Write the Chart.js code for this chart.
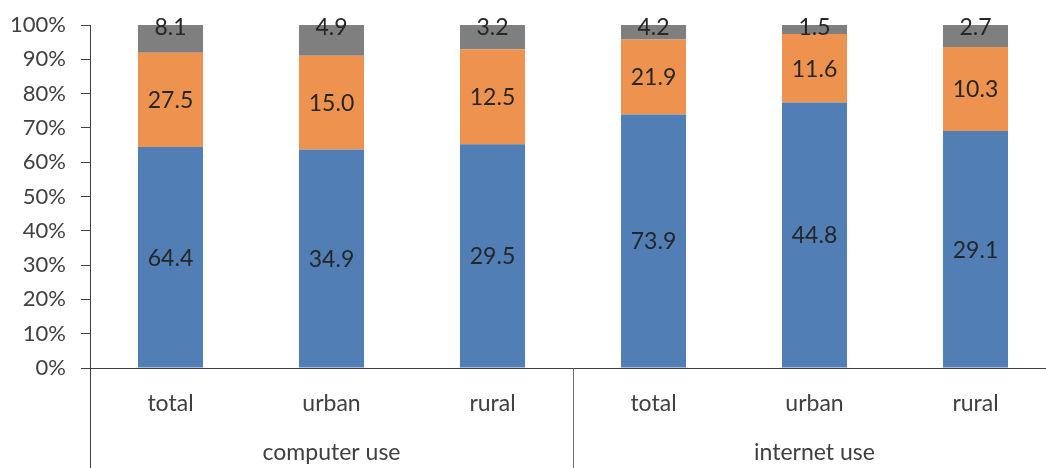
<!DOCTYPE html>
<html>
<head>
<meta charset="utf-8">
<script src="https://cdn.jsdelivr.net/npm/chart.js@4/dist/chart.umd.min.js"></script>
<style>
  html, body { margin: 0; padding: 0; background: #fff; overflow: hidden; }
  #wrap { position: absolute; left: 0; top: 0; width: 1060px; height: 468px; }
</style>
</head>
<body>
<div id="wrap"><canvas id="chart" width="1060" height="468"></canvas></div>
<script>
// categories along the bottom, two groups of three
const categories = ["total", "urban", "rural", "total", "urban", "rural"];
const groups = ["computer use", "internet use"];

// values printed on the segments (raw shares, bars are normalised to 100%)
const blueValues = [64.4, 34.9, 29.5, 73.9, 44.8, 29.1];
const orangeValues = [27.5, 15.0, 12.5, 21.9, 11.6, 10.3];
const grayValues = [8.1, 4.9, 3.2, 4.2, 1.5, 2.7];

const yTicks = [0, 10, 20, 30, 40, 50, 60, 70, 80, 90, 100];

const seriesRaw = [blueValues, orangeValues, grayValues];
const totals = categories.map((c, i) => seriesRaw.reduce((s, arr) => s + arr[i], 0));
const toPct = (arr) => arr.map((v, i) => (v / totals[i]) * 100);

const FONT = "Lato, 'Open Sans', sans-serif";

// draws values inside the segments
const segmentLabels = {
  id: "segmentLabels",
  afterDatasetsDraw(chart) {
    const ctx = chart.ctx;
    ctx.save();
    ctx.font = "23px " + FONT;
    ctx.fillStyle = "#262626";
    ctx.textAlign = "center";
    ctx.textBaseline = "middle";
    chart.data.datasets.forEach((ds, di) => {
      const meta = chart.getDatasetMeta(di);
      meta.data.forEach((el, i) => {
        const top = Math.min(el.y, el.base);
        const bottom = Math.max(el.y, el.base);
        let y = (top + bottom) / 2;
        if (di === 2) y = top + 2; // small top segments: label sits at the top
        ctx.fillText(seriesRaw[di][i].toFixed(1), el.x, y + 1);
      });
    });
    ctx.restore();
  }
};

// axis lines, group separators and group names
const groupAxis = {
  id: "groupAxis",
  afterDraw(chart) {
    const ctx = chart.ctx;
    const area = chart.chartArea;
    const x = chart.scales.x;
    ctx.save();
    ctx.strokeStyle = "#404040";
    ctx.lineWidth = 1;
    ctx.beginPath();
    // x axis line
    ctx.moveTo(area.left, Math.round(area.bottom) + 0.5);
    ctx.lineTo(chart.width, Math.round(area.bottom) + 0.5);
    // y axis line, carried down through the category rows
    ctx.moveTo(Math.round(area.left) + 0.5, area.top);
    ctx.lineTo(Math.round(area.left) + 0.5, chart.height);
    ctx.stroke();

    const mid = Math.round((x.getPixelForValue(2) + x.getPixelForValue(3)) / 2) + 0.5;
    ctx.strokeStyle = "#6b6b6b";
    ctx.beginPath();
    ctx.moveTo(mid, area.bottom);
    ctx.lineTo(mid, chart.height);
    ctx.stroke();

    ctx.font = "23px " + FONT;
    ctx.fillStyle = "#404040";
    ctx.textAlign = "center";
    ctx.textBaseline = "middle";
    groups.forEach((g, gi) => {
      ctx.fillText(g, x.getPixelForValue(gi * 3 + 1), 453);
    });
    ctx.restore();
  }
};

new Chart(document.getElementById("chart"), {
  type: "bar",
  data: {
    labels: categories,
    datasets: [
      { label: "blue", data: toPct(blueValues), backgroundColor: "#507EB5" },
      { label: "orange", data: toPct(orangeValues), backgroundColor: "#EE934F" },
      { label: "gray", data: toPct(grayValues), backgroundColor: "#7F7F7F" }
    ]
  },
  options: {
    responsive: false,
    animation: false,
    devicePixelRatio: 1,
    layout: { padding: { top: 25, right: 4, left: 0, bottom: 0 } },
    datasets: { bar: { barPercentage: 1, categoryPercentage: 0.404, borderWidth: 0 } },
    plugins: { legend: { display: false }, tooltip: { enabled: false } },
    scales: {
      x: {
        stacked: true,
        grid: { display: false },
        border: { display: false },
        ticks: { font: { family: FONT, size: 23 }, color: "#404040", padding: 14, maxRotation: 0, autoSkip: false },
        afterFit: (s) => { s.height = 100; s.paddingLeft = 0; s.paddingRight = 0; }
      },
      y: {
        stacked: true,
        min: 0,
        max: 100,
        afterBuildTicks: (s) => { s.ticks = yTicks.map((v) => ({ value: v })); },
        grid: { drawOnChartArea: false, drawTicks: true, tickLength: 9, color: "#404040" },
        border: { display: false },
        ticks: {
          font: { family: FONT, size: 22 },
          color: "#404040",
          padding: 15,
          callback: (v) => v + "%"
        },
        afterFit: (s) => { s.width = 90; s.paddingTop = 0; s.paddingBottom = 0; }
      }
    }
  },
  plugins: [segmentLabels, groupAxis]
});
</script>
</body>
</html>
